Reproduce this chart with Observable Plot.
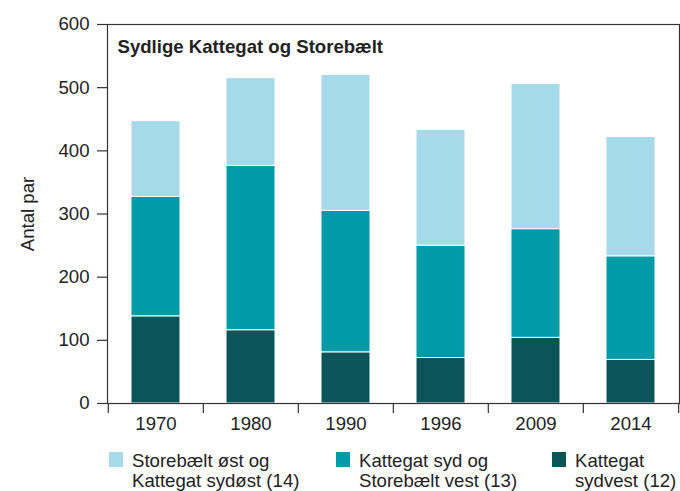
<!DOCTYPE html>
<html>
<head>
<meta charset="utf-8">
<script src="https://cdn.jsdelivr.net/npm/d3@7"></script>
<script src="https://cdn.jsdelivr.net/npm/@observablehq/plot@0.6"></script>
<style>
  html, body { margin: 0; padding: 0; background: #fff; }
  #wrap { position: relative; width: 680px; height: 491px; overflow: hidden; font-family: "Liberation Sans", Arial, sans-serif; color: #222; }
  #legend { position: absolute; left: 0; top: 451px; width: 680px; height: 40px; font-size: 18.6px; line-height: 20px; }
  .item { position: absolute; top: 0; }
  .sw { position: absolute; top: 1px; width: 14px; height: 15px; }
  .lab { position: absolute; top: 0; white-space: nowrap; }
</style>
</head>
<body>
<div id="wrap"><div id="chart"></div><div id="legend"></div></div>
<script>
const years = ["1970", "1980", "1990", "1996", "2009", "2014"];
const seriesNames = ["Kattegat sydvest (12)", "Kattegat syd og Storebælt vest (13)", "Storebælt øst og Kattegat sydøst (14)"];
const legendLines = [
  ["Storebælt øst og", "Kattegat sydøst (14)"],
  ["Kattegat syd og", "Storebælt vest (13)"],
  ["Kattegat", "sydvest (12)"]
];
const kattegatSydvest = [138, 116, 81, 72, 104, 69];
const kattegatSydStorebaeltVest = [189, 260, 224, 178, 172, 164];
const storebaeltOstKattegatSydost = [120, 139, 215, 183, 230, 189];
const colors = ["#0b5458", "#009ba6", "#a6d9ea"];
const yTicks = [0, 100, 200, 300, 400, 500, 600];
const titleText = "Sydlige Kattegat og Storebælt";
const yLabel = "Antal par";

const seriesValues = [kattegatSydvest, kattegatSydStorebaeltVest, storebaeltOstKattegatSydost];
const data = [];
seriesNames.forEach((s, i) => years.forEach((y, j) => data.push({year: y, series: s, value: seriesValues[i][j]})));

const width = 680, height = 440, mL = 107, mR = 1, mT = 24, mB = 37;
const step = (width - mL - mR) / years.length;

const chart = Plot.plot({
  width, height,
  marginLeft: mL, marginRight: mR, marginTop: mT, marginBottom: mB,
  style: {fontFamily: '"Liberation Sans", Arial, sans-serif', fontSize: "18.6px", color: "#222", background: "#fff"},
  x: {domain: years, paddingInner: 0.486, paddingOuter: 0.243, label: null},
  y: {domain: [0, 600], label: null},
  color: {domain: seriesNames, range: colors},
  marks: [
    Plot.barY(data, Plot.stackY({order: seriesNames}, {x: "year", y: "value", fill: "series", z: "series", stroke: "#fff", strokeWidth: 1})),
    Plot.frame({stroke: "#333", strokeWidth: 1.2}),
    Plot.axisY({ticks: yTicks, tickSize: 10, tickPadding: 8, stroke: "#333", strokeWidth: 1.2, label: yLabel, labelAnchor: "center", labelArrow: "none", labelOffset: 87}),
    Plot.axisX({tickSize: 0, tickPadding: 13, label: null}),
    Plot.axisX({tickSize: 10, dx: -step / 2, tickFormat: () => "", stroke: "#333", strokeWidth: 1.2, label: null}),
    Plot.axisX({ticks: [years[years.length - 1]], tickSize: 10, dx: step / 2, tickFormat: () => "", stroke: "#333", strokeWidth: 1.2, label: null}),
    Plot.text([titleText], {frameAnchor: "top-left", text: d => d, dx: 10, dy: 15, lineAnchor: "top", textAnchor: "start", fontWeight: "bold", fill: "#222", fontSize: 18.6})
  ]
});
document.getElementById("chart").appendChild(chart);

const legendX = [109, 336, 552];
const legendColors = [colors[2], colors[1], colors[0]];
const legend = document.getElementById("legend");
legendLines.forEach((lines, i) => {
  const item = document.createElement("div");
  item.className = "item";
  item.style.left = legendX[i] + "px";
  const sw = document.createElement("div");
  sw.className = "sw";
  sw.style.left = "0px";
  sw.style.background = legendColors[i];
  const lab = document.createElement("div");
  lab.className = "lab";
  lab.style.left = "23px";
  lab.innerHTML = lines.join("<br>");
  item.appendChild(sw);
  item.appendChild(lab);
  legend.appendChild(item);
});
</script>
</body>
</html>
